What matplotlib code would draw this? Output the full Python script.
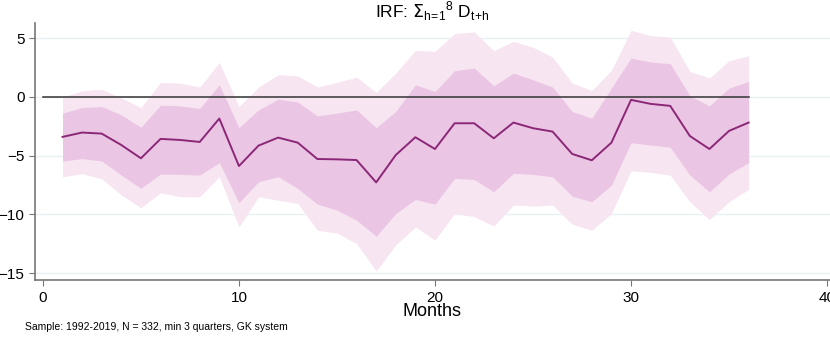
import matplotlib
matplotlib.use("Agg")
import matplotlib.pyplot as plt
import numpy as np

plt.rcParams['font.family'] = ['Liberation Sans', 'DejaVu Sans']

# horizon in months
months = np.arange(1, 37)

# point estimate of the impulse response
irf = [-3.41, -3.04, -3.13, -4.1, -5.23, -3.58, -3.67, -3.84, -1.85, -5.89,
       -4.15, -3.47, -3.9, -5.29, -5.32, -5.38, -7.28, -4.95, -3.44, -4.44,
       -2.25, -2.25, -3.53, -2.19, -2.67, -2.96, -4.86, -5.4, -3.9, -0.26,
       -0.6, -0.77, -3.33, -4.44, -2.9, -2.19]

# inner band (dark)
inner_lo = [-5.46, -5.26, -5.46, -6.66, -7.79, -6.57, -6.6, -6.66, -5.6, -9.02,
            -7.22, -6.8, -7.8, -9.13, -9.64, -10.5, -11.86, -9.93, -8.73, -9.13,
            -6.94, -7.03, -8.08, -6.51, -6.6, -6.8, -8.45, -8.93, -7.51, -3.9,
            -4.1, -4.29, -6.66, -8.08, -6.57, -5.6]
inner_hi = [-1.39, -0.91, -0.83, -1.54, -2.59, -0.71, -0.77, -1.0, 1.02, -2.62,
            -1.11, -0.2, -0.45, -1.62, -1.39, -1.11, -2.62, -1.25, 1.02, 0.45,
            2.22, 2.45, 0.94, 2.02, 1.45, 0.83, -1.25, -1.82, 0.74, 3.3,
            2.96, 2.82, 0.09, -0.77, 0.74, 1.31]

# outer band (light)
outer_lo = [-6.8, -6.54, -6.97, -8.36, -9.44, -8.16, -8.5, -8.5, -6.8, -11.07,
            -8.5, -8.8, -9.07, -11.35, -11.6, -12.48, -14.82, -12.6, -11.07, -12.2,
            -9.93, -10.2, -11.0, -9.2, -9.3, -9.2, -10.84, -11.35, -9.93, -6.29,
            -6.43, -6.66, -8.93, -10.44, -8.93, -7.87]
outer_hi = [0.0, 0.51, 0.65, -0.1, -0.91, 1.22, 1.17, 0.83, 2.93, -0.83,
            0.83, 1.88, 1.79, 0.83, 1.22, 1.68, 0.37, 2.02, 3.95, 3.87,
            5.38, 5.52, 3.92, 4.72, 4.21, 3.38, 1.17, 0.54, 2.25, 5.66,
            5.2, 5.09, 2.16, 1.6, 3.07, 3.5]

fig = plt.figure(figsize=(8.3, 3.4), dpi=100)
ax = fig.add_axes([0.042, 0.176, 0.958, 0.757])

#bands and the line
ax.fill_between(months, outer_lo, outer_hi, color='#f7e5f1', lw=0)
ax.fill_between(months, inner_lo, inner_hi, color='#ebc5e4', lw=0)
ax.plot([0, 36], [0, 0], color='#333333', lw=1.1)
ax.plot(months, irf, color='#8b2777', lw=1.4)

ax.set_xlim(-0.41, 40.15)
ax.set_ylim(-15.6, 6.3)
ax.set_xticks([0, 10, 20, 30, 40])
ax.set_yticks([5, 0, -5, -10, -15])
ax.yaxis.grid(True, color='#eaf1f4', lw=1)
ax.set_axisbelow(True)

for s in ['top', 'right']:
    ax.spines[s].set_visible(False)
for s in ['left', 'bottom']:
    ax.spines[s].set_color('#777777')
    ax.spines[s].set_linewidth(1.2)
ax.tick_params(colors='#777777', labelcolor='black', labelsize=11, length=4)

ax.set_title(r'IRF: $\Sigma_{\mathregular{h\!=\!1}}{}^{\mathregular{8}}$ D$_{\mathregular{t\!+\!h}}$', fontsize=12.5, pad=3)
ax.set_xlabel('Months', fontsize=13, labelpad=-1)

fig.text(0.03, 0.03, 'Sample: 1992-2019, N = 332, min 3 quarters, GK system', fontsize=7.5)

plt.savefig('out.png', dpi=100)
